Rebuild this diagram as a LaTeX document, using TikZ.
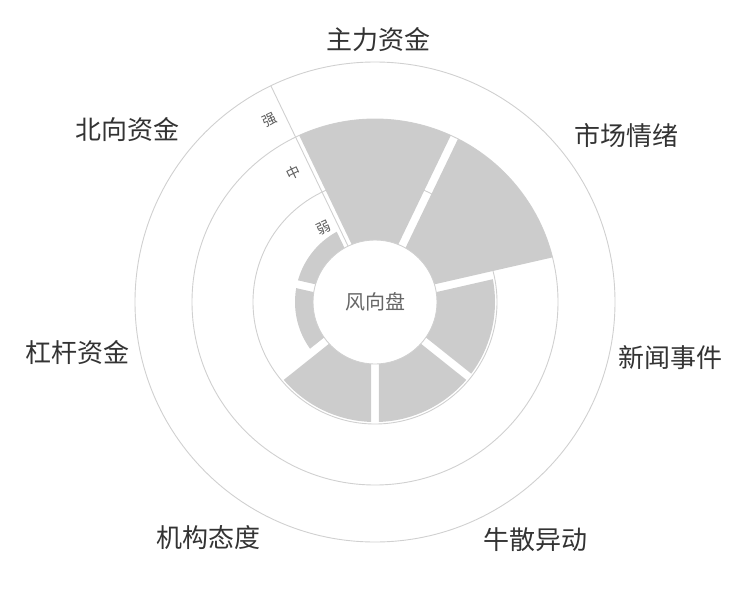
\documentclass[tikz,border=0pt]{standalone}
\usepackage{fontspec}
\setmainfont{Noto Sans CJK SC}
\usetikzlibrary{calc}
\definecolor{barc}{HTML}{CCCCCC}
\definecolor{ringc}{HTML}{D0D0D0}
\definecolor{txt}{HTML}{333333}
\tikzset{
  ring/.style={draw=ringc, line width=0.9pt},
  cat/.style={text=txt, font=\fontsize{26}{28}\selectfont, inner sep=0pt},
  lvl/.style={text=txt!80, font=\fontsize{14}{16}\selectfont, inner sep=0pt, rotate=25.7},
}
\begin{document}
\begin{tikzpicture}[x=1pt,y=1pt]
\useasboundingbox (0,0) rectangle (750,-600);
\coordinate (O) at (375,-302);
% rings
\draw[ring] (O) circle (240);
\draw[ring] (O) circle (183);
\draw[ring] (O) circle (122);
% bars
\foreach \k/\v in {0/183,1/183,2/120,3/120,4/120,5/80,6/80}{
  \pgfmathsetmacro{\c}{90-\k*51.428571}
  \begin{scope}
    \coordinate (ap) at ($(O)+(\c:9.2)$);
    \clip (ap) -- ($(ap)+(\c+25.714:400)$) -- ($(ap)+(\c:400)$) -- ($(ap)+(\c-25.714:400)$) -- cycle;
    \fill[barc, even odd rule] (O) circle (\v) (O) circle (62);
  \end{scope}
}
\draw[ring] (O) circle (62);
% axis
\draw[ring] ($(O)+(115.714:62)$) coordinate (a0) -- ($(O)+(115.714:240)$) coordinate (a1);
\node[lvl] (s) at ($(O)+(120:210)$) {强};
\node[lvl] (m) at ($(O)+(122.4:153)$) {中};
\node[lvl] (w) at ($(O)+(125:90)$) {弱};
\node[text=txt!75, font=\fontsize{20}{22}\selectfont, inner sep=0pt] (c) at (O) {风向盘};
% categories
\node[cat] (c1) at (378,-40) {主力资金};
\node[cat] (c2) at (626,-135) {市场情绪};
\node[cat] (c3) at (670,-358) {新闻事件};
\node[cat] (c4) at (535,-540) {牛散异动};
\node[cat] (c5) at (208,-538) {机构态度};
\node[cat] (c6) at (77,-353) {杠杆资金};
\node[cat] (c7) at (127,-130) {北向资金};
\end{tikzpicture}
\end{document}
